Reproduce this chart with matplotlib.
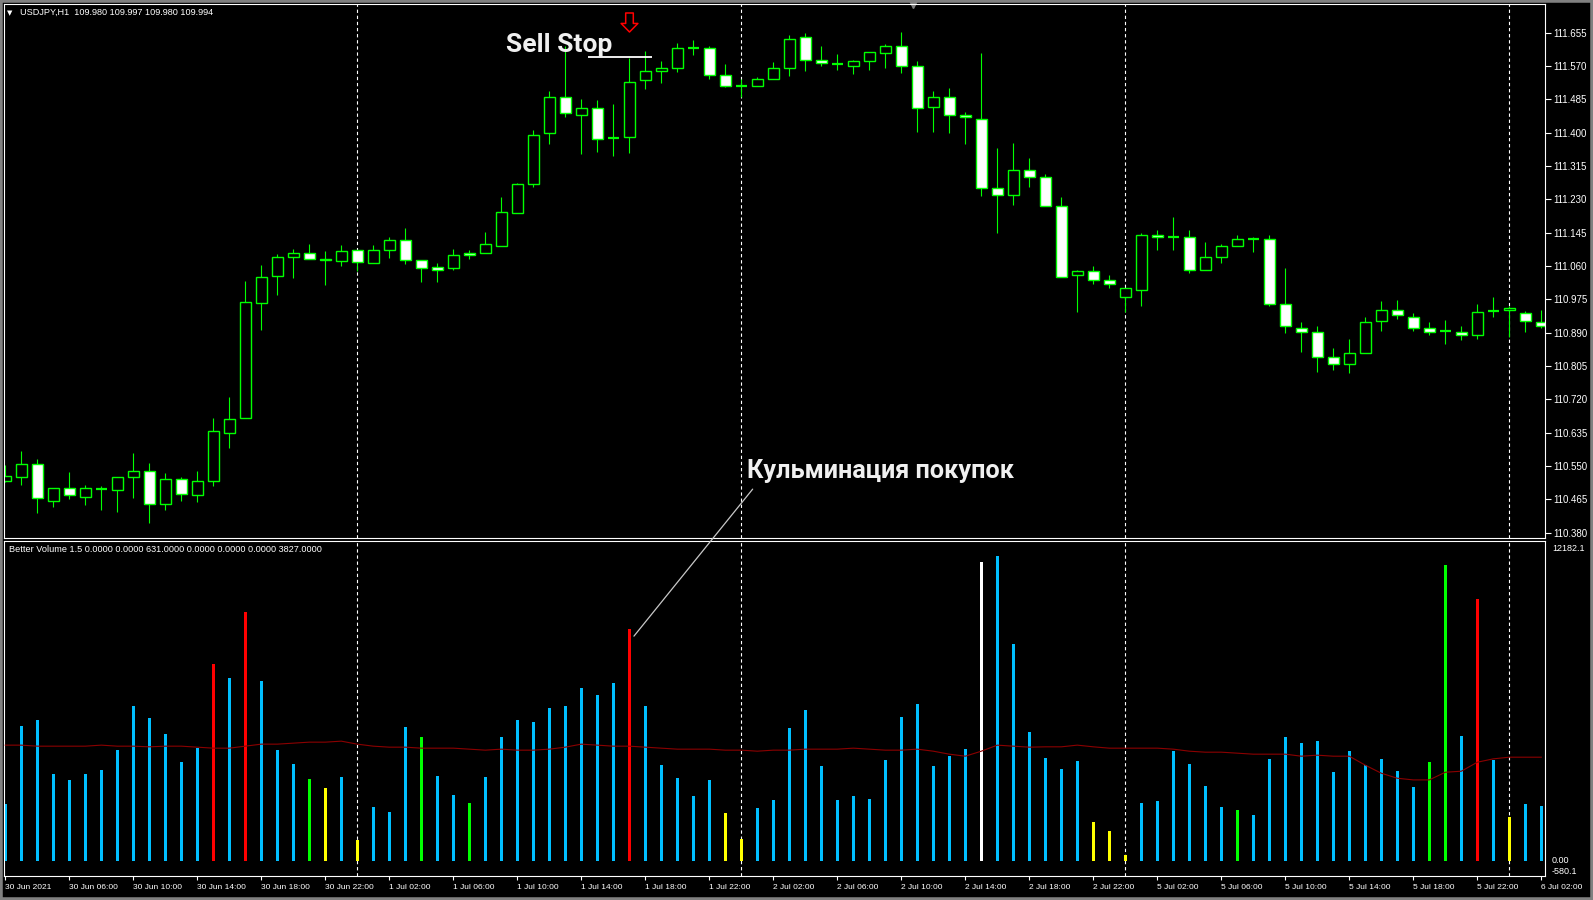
import matplotlib
matplotlib.use('Agg')
import matplotlib.pyplot as plt
from matplotlib.path import Path
from matplotlib.patches import ConnectionPatch, Rectangle
from matplotlib.transforms import blended_transform_factory, offset_copy

# USDJPY H1, bars from 30 Jun 02:00 to 6 Jul 02:00 (weekend skipped)
opens = [110.512, 110.523, 110.554, 110.461, 110.493, 110.472, 110.492, 110.489, 110.523, 110.536,
         110.454, 110.518, 110.477, 110.512, 110.635, 110.673, 110.966, 111.035, 111.082, 111.092,
         111.079, 111.073, 111.100, 111.068, 111.102, 111.125, 111.074, 111.057, 111.056, 111.093,
         111.092, 111.112, 111.196, 111.268, 111.398, 111.490, 111.446, 111.462, 111.386, 111.388,
         111.533, 111.556, 111.565, 111.616, 111.615, 111.548, 111.519, 111.518, 111.536, 111.566,
         111.643, 111.584, 111.576, 111.571, 111.582, 111.602, 111.622, 111.571, 111.466, 111.492,
         111.444, 111.436, 111.258, 111.240, 111.306, 111.286, 111.212, 111.036, 111.046, 111.023,
         110.982, 110.998, 111.140, 111.134, 111.135, 111.049, 111.084, 111.112, 111.130, 111.130,
         110.962, 110.903, 110.891, 110.829, 110.811, 110.837, 110.919, 110.947, 110.931, 110.901,
         110.893, 110.891, 110.883, 110.946, 110.947, 110.939, 110.916]
highs = [110.552, 110.588, 110.568, 110.495, 110.534, 110.501, 110.499, 110.523, 110.583, 110.557,
         110.532, 110.522, 110.537, 110.672, 110.726, 111.021, 111.062, 111.090, 111.103, 111.116,
         111.098, 111.113, 111.100, 111.113, 111.134, 111.156, 111.074, 111.067, 111.103, 111.100,
         111.146, 111.236, 111.271, 111.407, 111.506, 111.622, 111.486, 111.483, 111.474, 111.591,
         111.608, 111.582, 111.628, 111.636, 111.621, 111.575, 111.536, 111.542, 111.580, 111.649,
         111.654, 111.621, 111.600, 111.585, 111.605, 111.626, 111.656, 111.582, 111.506, 111.514,
         111.452, 111.603, 111.361, 111.373, 111.335, 111.294, 111.236, 111.051, 111.061, 111.036,
         111.003, 111.143, 111.152, 111.185, 111.151, 111.121, 111.117, 111.138, 111.135, 111.138,
         111.054, 110.916, 110.906, 110.850, 110.875, 110.929, 110.970, 110.972, 110.939, 110.916,
         110.921, 110.908, 110.962, 110.982, 110.959, 110.944, 110.949]
lows = [110.510, 110.501, 110.431, 110.446, 110.466, 110.451, 110.437, 110.433, 110.469, 110.405,
        110.437, 110.461, 110.458, 110.500, 110.596, 110.673, 110.897, 110.986, 111.030, 111.077,
        111.012, 111.061, 111.048, 111.068, 111.081, 111.064, 111.020, 111.020, 111.051, 111.078,
        111.092, 111.112, 111.194, 111.262, 111.372, 111.441, 111.346, 111.351, 111.341, 111.349,
        111.512, 111.527, 111.555, 111.599, 111.537, 111.517, 111.492, 111.518, 111.536, 111.545,
        111.558, 111.571, 111.560, 111.550, 111.560, 111.565, 111.553, 111.402, 111.402, 111.400,
        111.372, 111.239, 111.145, 111.216, 111.262, 111.212, 111.031, 110.943, 111.015, 111.003,
        110.942, 110.957, 111.101, 111.101, 111.043, 111.049, 111.068, 111.112, 111.096, 110.957,
        110.890, 110.841, 110.790, 110.795, 110.788, 110.837, 110.895, 110.924, 110.893, 110.883,
        110.860, 110.870, 110.875, 110.929, 110.880, 110.892, 110.902]
closes = [110.524, 110.554, 110.469, 110.495, 110.475, 110.495, 110.492, 110.523, 110.536, 110.454,
          110.516, 110.479, 110.513, 110.638, 110.671, 110.967, 111.033, 111.082, 111.092, 111.078,
          111.074, 111.097, 111.071, 111.102, 111.125, 111.074, 111.054, 111.051, 111.087, 111.087,
          111.115, 111.197, 111.268, 111.395, 111.490, 111.449, 111.462, 111.385, 111.386, 111.528,
          111.556, 111.566, 111.615, 111.616, 111.548, 111.520, 111.519, 111.538, 111.566, 111.640,
          111.586, 111.577, 111.576, 111.582, 111.605, 111.622, 111.569, 111.464, 111.490, 111.444,
          111.439, 111.258, 111.240, 111.304, 111.286, 111.212, 111.033, 111.046, 111.023, 111.013,
          111.003, 111.140, 111.133, 111.134, 111.049, 111.082, 111.112, 111.130, 111.130, 110.962,
          110.906, 110.891, 110.829, 110.811, 110.837, 110.916, 110.947, 110.934, 110.901, 110.891,
          110.893, 110.885, 110.942, 110.946, 110.954, 110.919, 110.908]

volumes = [2177, 5117, 5347, 3323, 3093, 3323, 3475, 4201, 5881, 5423,
           4812, 3781, 4315, 7485, 6951, 9471, 6836, 4239, 3704, 3132,
           2788, 3208, 802, 2062, 1871, 5079, 4697, 3246, 2521, 2215,
           3208, 4697, 5347, 5270, 5805, 5881, 6569, 6301, 6760, 8822,
           5881, 3666, 3170, 2482, 3093, 1833, 840, 2024, 2330, 5041,
           5729, 3628, 2330, 2482, 2368, 3857, 5461, 5958, 3628, 4010,
           4277, 11381, 11610, 8249, 4888, 3934, 3513, 3819, 1489, 1146,
           229, 2215, 2291, 4163, 3704, 2864, 2062, 1948, 1757, 3895,
           4697, 4468, 4545, 3399, 4163, 3666, 3895, 3437, 2826, 3781,
           11266, 4736, 9968, 3857, 1680, 2177, 2100]
vol_avg = [4405, 4405, 4366, 4366, 4366, 4366, 4405, 4366, 4366, 4341,
           4366, 4366, 4328, 4290, 4290, 4366, 4443, 4443, 4481, 4519,
           4519, 4557, 4443, 4366, 4328, 4328, 4290, 4290, 4290, 4252,
           4214, 4252, 4214, 4214, 4252, 4328, 4443, 4405, 4366, 4366,
           4328, 4290, 4252, 4252, 4252, 4214, 4214, 4175, 4214, 4214,
           4252, 4252, 4252, 4290, 4252, 4214, 4214, 4252, 4175, 4061,
           3984, 4175, 4405, 4366, 4328, 4341, 4341, 4405, 4341, 4290,
           4290, 4290, 4290, 4252, 4175, 4137, 4137, 4099, 4061, 4061,
           4061, 3984, 4023, 3984, 3984, 3641, 3335, 3144, 3081, 3081,
           3373, 3412, 3755, 3883, 3946, 3946, 3946]
# b=normal, r=climax up, g=low vol churn, y=low volume, w=climax down
vol_codes = ("bbbbbbbbbbbbb" + "rbr" + "bbb" + "gyby" + "bbb" + "g" + "bb" + "g" + "bbbbbbbbb" + "r"
             + "bbbbb" + "yy" + "bbbbbbbbbbbbbb" + "w" + "bbbbbb" + "yyy" + "bbbbbb" + "g"
             + "bbbbbbbbbbb" + "gg" + "brby" + "bb")
code_colors = {'b': '#00bfff', 'r': '#ff0000', 'g': '#00ff00', 'y': '#ffff00', 'w': '#ffffff'}

day_breaks = [22, 46, 70, 94]
xtick_bars = list(range(0, 97, 4))
xtick_labels = ["30 Jun 2021", "30 Jun 06:00", "30 Jun 10:00", "30 Jun 14:00", "30 Jun 18:00",
                "30 Jun 22:00", "1 Jul 02:00", "1 Jul 06:00", "1 Jul 10:00", "1 Jul 14:00",
                "1 Jul 18:00", "1 Jul 22:00", "2 Jul 02:00", "2 Jul 06:00", "2 Jul 10:00",
                "2 Jul 14:00", "2 Jul 18:00", "2 Jul 22:00", "5 Jul 02:00", "5 Jul 06:00",
                "5 Jul 10:00", "5 Jul 14:00", "5 Jul 18:00", "5 Jul 22:00", "6 Jul 02:00"]
price_ticks = [110.380, 110.465, 110.550, 110.635, 110.720, 110.805, 110.890, 110.975,
               111.060, 111.145, 111.230, 111.315, 111.400, 111.485, 111.570, 111.655]
price_range = (110.3664, 111.728)
vol_range = (-580.1, 12182.1)

# annotations
sell_stop_price = 111.594
sell_stop_bars = (36.4, 40.4)
arrow_bar, arrow_price = 39, 111.683
climax_bar = 39

GREEN = '#00ff00'
FG = '#ffffff'
LBL = 'Liberation Sans'

fig = plt.figure(figsize=(15.93, 9), dpi=100, facecolor='black')
ax = fig.add_axes([4 / 1593, 362 / 900, 1541 / 1593, 534 / 900], facecolor='black')
axv = fig.add_axes([4 / 1593, 24 / 900, 1541 / 1593, 335 / 900], facecolor='black')

n = len(closes)
bars = list(range(n))

# --- candles
ax.vlines(bars, lows, highs, color=GREEN, lw=0.8, zorder=1)
for i in bars:
    o, c = opens[i], closes[i]
    if abs(c - o) < 0.0005:
        ax.hlines(o, i - 0.34, i + 0.34, color=GREEN, lw=1.6, zorder=2)
    else:
        fill = 'black' if c > o else 'white'
        ax.bar(i, abs(c - o), bottom=min(o, c), width=0.67, color=fill,
               edgecolor=GREEN, linewidth=1.0, zorder=2)

ax.set_xlim(-0.08, 96.23)
ax.set_ylim(*price_range)
ax.yaxis.tick_right()
ax.set_yticks(price_ticks, [f"{p:.3f}" for p in price_ticks])
ax.tick_params(axis='y', colors=FG, length=4, width=0.8, pad=2, labelsize=7)
for t in ax.get_yticklabels():
    t.set_fontfamily(LBL)
ax.set_xticks([])

# --- volume
axv.bar(bars, volumes, width=0.19, color=[code_colors[c] for c in vol_codes], zorder=2)
axv.plot(bars, vol_avg, color='#8b0000', lw=0.8, zorder=3)
axv.set_xlim(-0.08, 96.23)
axv.set_ylim(*vol_range)
axv.set_yticks([])
axv.set_xticks(xtick_bars, xtick_labels)
axv.tick_params(axis='x', colors=FG, length=3, width=0.8, pad=3, labelsize=6)
for t in axv.get_xticklabels():
    t.set_fontfamily(LBL)
    t.set_horizontalalignment('left')

ytr = blended_transform_factory(axv.transAxes, axv.transData)
axv.text(1.005, vol_range[1], "12182.1", transform=offset_copy(ytr, fig=fig, y=-3, units='dots'),
         color=FG, fontsize=6.5, family=LBL, va='top', ha='left')
axv.text(1.004, 0, "0.00", transform=ytr, color=FG, fontsize=6.5, family=LBL,
         va='center', ha='left')
axv.text(1.004, vol_range[0], "-580.1", transform=ytr, color=FG, fontsize=6.5,
         family=LBL, va='bottom', ha='left')

for a in (ax, axv):
    for s in a.spines.values():
        s.set_color(FG)
        s.set_linewidth(0.8)
    for d in day_breaks:
        a.axvline(d, color=FG, lw=0.8, ls=(0, (3, 2.5)), zorder=0.5)

# headers
ax.text(0.004, 0.9837, "\u25bc", transform=ax.transAxes, color=FG, fontsize=5,
        family='DejaVu Sans', va='center', ha='center')
ax.text(0.0104, 0.9837, "USDJPY,H1  109.980 109.997 109.980 109.994", transform=ax.transAxes,
        color=FG, fontsize=6.6, family=LBL, va='center', ha='left')
axv.text(0.0034, 0.975, "Better Volume 1.5 0.0000 0.0000 631.0000 0.0000 0.0000 0.0000 3827.0000",
         transform=axv.transAxes, color=FG, fontsize=6.6, family=LBL, va='center', ha='left')
ax.plot([56.7], [1.0], marker='v', color='#808080', markersize=6, clip_on=False,
        transform=blended_transform_factory(ax.transData, ax.transAxes))

# sell stop mark
ax.hlines(sell_stop_price, *sell_stop_bars, color=FG, lw=1.3, zorder=4)
ax.text(31.29, 111.606, "Sell Stop", color='#f0f0f0', fontsize=19, family='Roboto',
        fontweight='bold', va='baseline', ha='left', zorder=5)
arrow = Path([(-0.2, 0.5), (0.2, 0.5), (0.2, -0.05), (0.44, -0.05), (0, -0.5),
              (-0.44, -0.05), (-0.2, -0.05), (-0.2, 0.5)], closed=True)
ax.plot([arrow_bar], [arrow_price], marker=arrow, markersize=13.7, markerfacecolor='none',
        markeredgecolor='#ff0000', markeredgewidth=1.1, clip_on=False, zorder=5)

# climax annotation
ax.text(46.35, 110.520, "Кульминация покупок", color='#f0f0f0', fontsize=18.2,
        family='Roboto', fontweight='bold', va='baseline', ha='left', zorder=5)
con = ConnectionPatch(xyA=(climax_bar + 0.29, volumes[climax_bar] * 0.97), coordsA=axv.transData,
                      xyB=(46.71, 110.491), coordsB=ax.transData, color='#c8c8c8', lw=0.9)
fig.add_artist(con)

# window frame
fig.add_artist(Rectangle((0, 0), 1, 1, transform=fig.transFigure, fill=False,
                         edgecolor='#808080', lw=4))

fig.savefig('out.png', dpi=100, facecolor='black')
